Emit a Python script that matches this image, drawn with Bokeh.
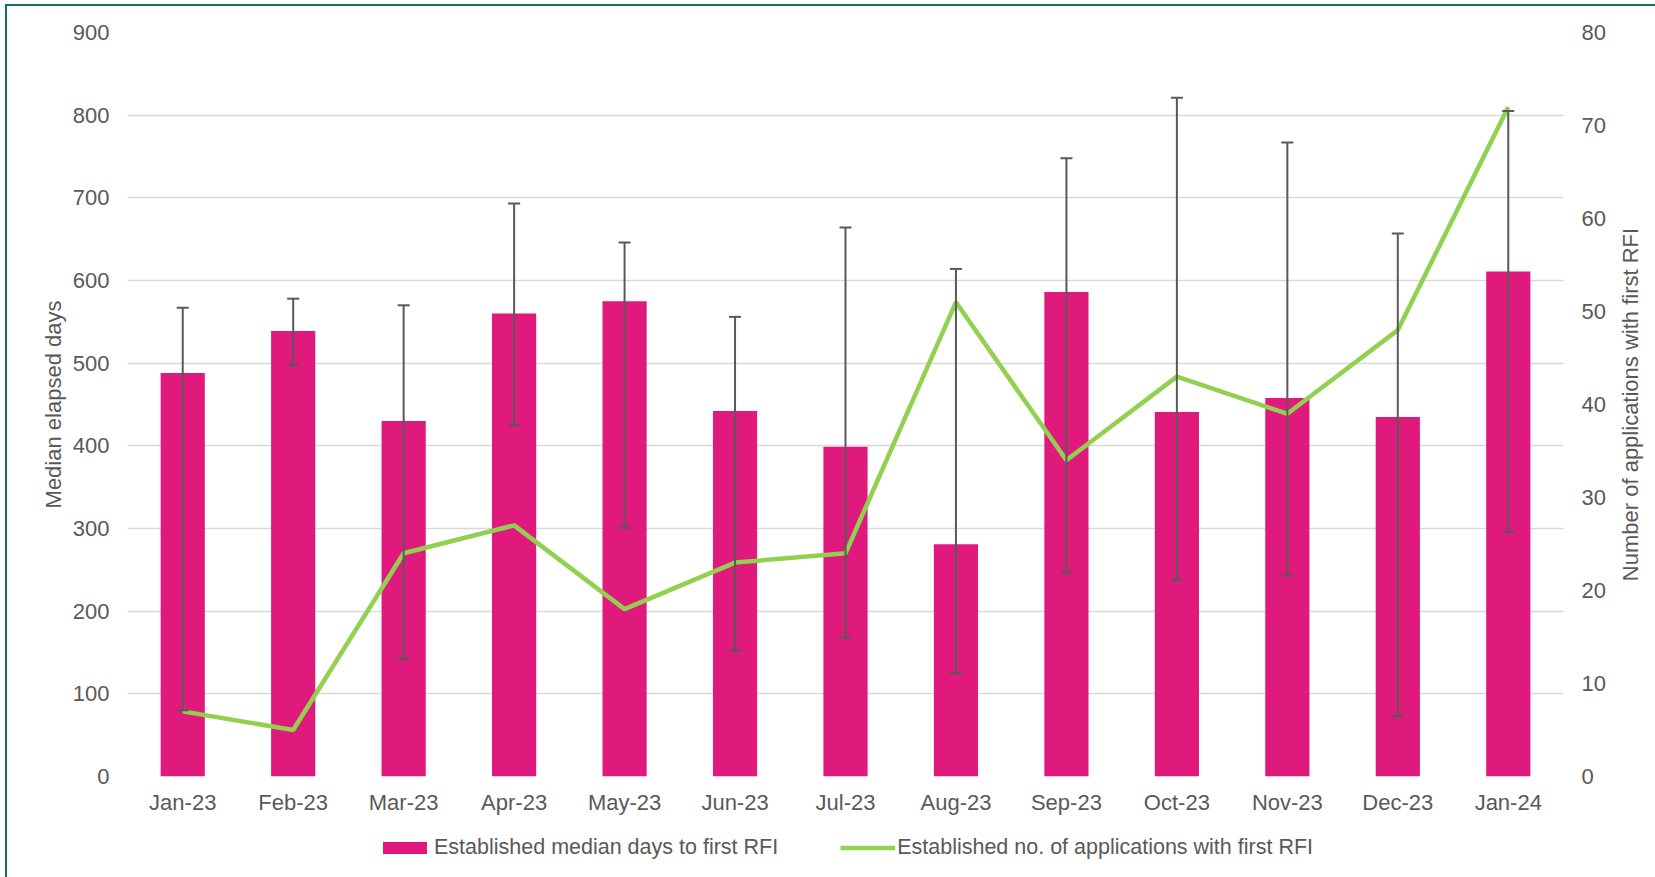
from bokeh.plotting import figure
from bokeh.layouts import column, row
from bokeh.models import (FactorRange, Range1d, LinearAxis, Whisker, TeeHead, Title,
                          ColumnDataSource, Legend, LegendItem, SingleIntervalTicker)
from bokeh.embed import file_html
from bokeh.resources import INLINE

months = ["Jan-23", "Feb-23", "Mar-23", "Apr-23", "May-23", "Jun-23", "Jul-23",
          "Aug-23", "Sep-23", "Oct-23", "Nov-23", "Dec-23", "Jan-24"]
median_days = [488, 539, 430, 560, 575, 442, 399, 281, 586, 441, 458, 435, 611]
err_upper = [567, 578, 570, 693, 646, 556, 664, 614, 748, 821, 767, 657, 805]
err_lower = [80, 498, 142, 425, 301, 152, 168, 125, 247, 238, 243, 73, 296]
applications = [7, 5, 24, 27, 18, 23, 24, 51, 34, 43, 39, 48, 72]
legend_labels = ["Established median days to first RFI",
                 "Established no. of applications with first RFI"]
left_title = "Median elapsed days"
right_title = "Number of applications with first RFI"

FONT = "Liberation Sans"
FS = "22px"
TXT = "#595959"
PINK = "#E0197D"
GREEN = "#92D050"

src = ColumnDataSource(dict(month=months, days=median_days, upper=err_upper,
                            lower=err_lower, apps=applications))

p = figure(x_range=FactorRange(factors=months, range_padding=0),
           y_range=Range1d(0, 900), width=1601, height=811,
           output_backend="svg", toolbar_location=None,
           min_border_left=120, min_border_right=43, min_border_top=26,
           min_border_bottom=40, outline_line_color=None,
           background_fill_color="white", border_fill_color="white")

p.extra_y_ranges = {"apps": Range1d(0, 80)}

r_bar = p.vbar(x="month", top="days", width=0.4, source=src,
               fill_color=PINK, line_color=None)

w = Whisker(base="month", upper="upper", lower="lower", source=src,
            line_color="#595959", line_width=2, level="glyph",
            upper_head=TeeHead(size=12, line_color="#595959", line_width=2),
            lower_head=TeeHead(size=12, line_color="#595959", line_width=2))
p.add_layout(w)

r_line = p.line(x="month", y="apps", source=src, y_range_name="apps",
                line_color=GREEN, line_width=4.5)

# axes
p.yaxis.ticker = SingleIntervalTicker(interval=100)
for ax in [p.yaxis[0], p.xaxis[0]]:
    ax.axis_line_color = None
    ax.major_tick_line_color = None
    ax.minor_tick_line_color = None
    ax.major_tick_out = 0
    ax.minor_tick_out = 0
    ax.major_label_text_font = FONT
    ax.major_label_text_font_size = FS
    ax.major_label_text_color = TXT
p.yaxis.major_label_standoff = 18
p.xaxis.major_label_standoff = 13
p.yaxis.axis_label = left_title
p.yaxis.axis_label_text_font = FONT
p.yaxis.axis_label_text_font_size = FS
p.yaxis.axis_label_text_font_style = "normal"
p.yaxis.axis_label_text_color = TXT
p.yaxis.axis_label_standoff = 4

rax = LinearAxis(y_range_name="apps", ticker=SingleIntervalTicker(interval=10),
                 axis_line_color=None, major_tick_line_color=None,
                 minor_tick_line_color=None, major_tick_out=0, minor_tick_out=0,
                 major_label_text_font=FONT,
                 major_label_text_font_size=FS, major_label_text_color=TXT,
                 major_label_standoff=18)
p.add_layout(rax, "right")

p.xgrid.grid_line_color = None
p.ygrid.grid_line_color = "#d9d9d9"
p.ygrid.grid_line_width = 1.5

# right-hand title strip (reads bottom to top, like a left title)
rt = figure(x_range=Range1d(0, 1), y_range=Range1d(0, 1), width=47, height=811,
            output_backend="svg", toolbar_location=None,
            x_axis_location=None, y_axis_location=None,
            min_border_left=34, min_border_right=0, min_border_top=26,
            min_border_bottom=40, outline_line_color=None,
            background_fill_color="white", border_fill_color="white")
rt.grid.visible = False
rt.add_layout(Title(text=right_title, align="center", text_font=FONT,
                    text_font_size=FS, text_font_style="normal",
                    text_color=TXT, standoff=0, offset=0), "left")

# legend strip below (its renderers use the same data, kept out of view)
leg = figure(x_range=p.x_range, y_range=Range1d(5000, 5001), width=1601, height=60,
             output_backend="svg", toolbar_location=None,
             x_axis_location=None, y_axis_location=None,
             min_border_left=120, min_border_right=43, min_border_top=0,
             min_border_bottom=0, outline_line_color=None,
             background_fill_color="white", border_fill_color="white")
leg.grid.visible = False
lb = leg.vbar(x="month", top="days", width=0.4, source=src,
              fill_color=PINK, line_color=None)
ll = leg.line(x="month", y="apps", source=src, line_color=GREEN, line_width=4.5)
legend = Legend(items=[LegendItem(label=legend_labels[0], renderers=[lb]),
                       LegendItem(label=legend_labels[1], renderers=[ll])],
                orientation="horizontal", location=(250, 17),
                border_line_color=None, background_fill_alpha=0,
                label_text_font=FONT, label_text_font_size="21.5px",
                label_text_color=TXT, glyph_width=55, glyph_height=15,
                spacing=62, label_standoff=2, margin=0, padding=0)
leg.add_layout(legend, "center")

layout = column(row(p, rt, spacing=0), leg, spacing=0)
layout.styles = {"border-left": "2px solid #17705A", "border-top": "2px solid #17705A",
                 "margin-left": "5px", "margin-top": "4px"}

open("out.html", "w").write(file_html(layout, INLINE))
